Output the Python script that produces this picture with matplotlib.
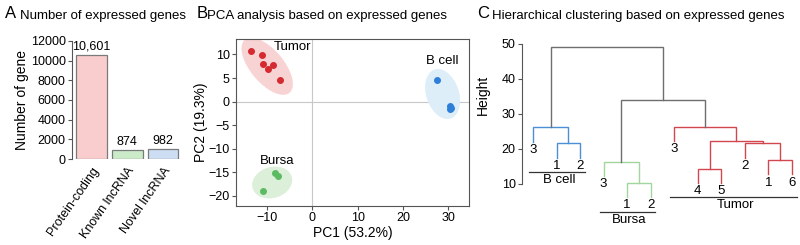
import numpy as np
import matplotlib.pyplot as plt
from matplotlib.patches import Ellipse

plt.rcParams['font.family'] = ['Liberation Sans', 'DejaVu Sans']
plt.rcParams['font.size'] = 9

# --- dades panell A
gene_types = ['Protein-coding', 'Known lncRNA', 'Novel lncRNA']
gene_counts = [10601, 874, 982]
gene_labels = ['10,601', '874', '982']

# --- dades panell B (PCA)
tumor_pc1 = [-13.6, -11.1, -11.0, -9.9, -8.8, -7.1]
tumor_pc2 = [10.8, 9.9, 8.0, 7.0, 7.7, 4.5]
bcell_pc1 = [27.5, 30.5, 30.4, 30.6]
bcell_pc2 = [4.5, -0.9, -1.6, -1.3]
bursa_pc1 = [-8.2, -7.6, -11.0]
bursa_pc2 = [-15.2, -15.9, -19.1]

# --- dades panell C (dendrograma): fulles en ordre i unions (esq, dre, alçada)
leaf_labels = ['3', '1', '2', '3', '1', '2', '3', '4', '5', '2', '1', '6']
merges = [(1, 2, 21.6),     # 12: B cell 1-2
          (0, 12, 26.2),    # 13: B cell
          (4, 5, 10.4),     # 14: Bursa 1-2
          (3, 14, 16.4),    # 15: Bursa
          (7, 8, 14.3),     # 16: Tumor 4-5
          (10, 11, 16.8),   # 17: Tumor 1-6
          (9, 17, 21.6),    # 18
          (16, 18, 22.4),   # 19
          (6, 19, 26.4),    # 20: Tumor
          (15, 20, 33.9),   # 21
          (13, 21, 49.0)]   # 22: arrel
groups = ['B cell', 'Bursa', 'Tumor']
group_leaves = [(0, 2), (3, 5), (6, 11)]
hang = 4.1

fig = plt.figure(figsize=(8, 2.45), dpi=100)

# ================= A
ax = fig.add_axes([0.09, 0.351, 0.136, 0.482])
xs = np.arange(len(gene_types))
ax.bar(xs, gene_counts, width=0.86, color=['#F9CDCD', '#CBEAC7', '#CDDDF4'],
       edgecolor='#7a7a7a', linewidth=0.9)
for x, v, t in zip(xs, gene_counts, gene_labels):
  ax.text(x, v + 250, t, ha='center', va='bottom', fontsize=9)
ax.set_xlim(-0.54, 2.5)
ax.set_ylim(0, 12000)
ax.set_yticks(np.arange(0, 12001, 2000))
ax.set_xticks(xs)
ax.set_xticklabels(gene_types, rotation=55, ha='right', rotation_mode='anchor', fontsize=9)
ax.tick_params(axis='x', length=0, pad=4)
ax.tick_params(axis='y', length=3, width=0.8, color='#555', pad=1.5)
for s in ['top', 'right', 'bottom']:
  ax.spines[s].set_visible(False)
ax.spines['left'].set_color('#555')
ax.set_ylabel('Number of gene', fontsize=10, labelpad=1)
fig.text(0.006, 0.945, 'A', fontsize=12, va='center')
fig.text(0.025, 0.935, 'Number of expressed genes', fontsize=9.5, va='center')

# ================= B
bx = fig.add_axes([0.295, 0.159, 0.2916, 0.682])
bx.axhline(0, color='#c8c8c8', lw=0.8, zorder=0)
bx.axvline(0, color='#c8c8c8', lw=0.8, zorder=0)
bx.add_patch(Ellipse((-10.0, 7.5), 15.0, 7.2, angle=-48, color='#F8D3D3', lw=0))
bx.add_patch(Ellipse((28.8, 1.6), 11.0, 7.2, angle=-70, color='#DDEEF8', lw=0))
bx.add_patch(Ellipse((-8.9, -17.2), 9.0, 6.6, angle=15, color='#DCEFD9', lw=0))
bx.scatter(tumor_pc1, tumor_pc2, s=16, color='#D42A30', zorder=3)
bx.scatter(bcell_pc1, bcell_pc2, s=16, color='#2D7FD8', zorder=3)
bx.scatter(bursa_pc1, bursa_pc2, s=16, color='#5CBA63', zorder=3)
bx.text(-4.3, 11.6, 'Tumor', ha='center', va='center', fontsize=9.5)
bx.text(28.8, 8.6, 'B cell', ha='center', va='center', fontsize=9.5)
bx.text(-7.7, -12.7, 'Bursa', ha='center', va='center', fontsize=9.5)
bx.set_xlim(-16.9, 34.7)
bx.set_ylim(-22.2, 13.3)
bx.set_xticks([-10, 0, 10, 20, 30])
bx.set_yticks([10, 5, 0, -5, -10, -15, -20])
bx.tick_params(length=3, width=0.8, color='#555', pad=1.5)
for s in bx.spines.values():
  s.set_color('#555')
bx.set_xlabel('PC1 (53.2%)', fontsize=10, labelpad=1)
bx.set_ylabel('PC2 (19.3%)', fontsize=10, labelpad=0)
fig.text(0.246, 0.945, 'B', fontsize=12, va='center')
fig.text(0.259, 0.935, 'PCA analysis based on expressed genes', fontsize=9.5, va='center')

# ================= C
cx = fig.add_axes([0.6525, 0.041, 0.3475, 0.796])
n = len(leaf_labels)
pos = {i: (float(i), 0.0) for i in range(n)}
gcol = ['#4A8FD8', '#A3D69E', '#D24650']
def leaf_color(i):
  for (a, b), c in zip(group_leaves, gcol):
    if a <= i <= b:
      return c
def node_leaves(k):
  if k < n:
    return [k]
  l, r, _ = merges[k - n]
  return node_leaves(l) + node_leaves(r)
for k, (l, r, h) in enumerate(merges):
  node = n + k
  cols = set(leaf_color(i) for i in node_leaves(node))
  col = cols.pop() if len(cols) == 1 else '#6e6e6e'
  xl, hl = pos[l]
  xr, hr = pos[r]
  if l < n:
    hl = h - hang
  if r < n:
    hr = h - hang
  cx.plot([xl, xl, xr, xr], [hl, h, h, hr], color=col, lw=1.0, solid_joinstyle='miter')
  pos[node] = ((xl + xr) / 2, h)
  for c in (l, r):
    if c < n:
      cx.text(c, h - hang - 0.6, leaf_labels[c], ha='center', va='top', fontsize=9.5)
# subratllats dels grups
gy = [13.4, 2.0, 6.3]
for g, (a, b), y in zip(groups, group_leaves, gy):
  cx.plot([a - 0.17, b + 0.2], [y, y], color='#333', lw=0.9)
  cx.text((a + b) / 2 + 0.1, y - 0.5, g, ha='center', va='top', fontsize=9.5)
cx.set_xlim(-0.467, 11.34)
cx.set_ylim(-4.57, 51.14)
cx.set_yticks([10, 20, 30, 40, 50])
cx.set_xticks([])
cx.spines['left'].set_bounds(10, 50)
cx.spines['left'].set_color('#555')
for s in ['top', 'right', 'bottom']:
  cx.spines[s].set_visible(False)
cx.tick_params(axis='y', length=3, width=0.8, color='#555', pad=1.5)
cx.set_ylabel('Height', fontsize=10)
cx.yaxis.set_label_coords(-0.115, 0.72)
fig.text(0.596, 0.945, 'C', fontsize=12, va='center')
fig.text(0.615, 0.935, 'Hierarchical clustering based on expressed genes', fontsize=9.5, va='center')

fig.savefig('out.png', dpi=100)
